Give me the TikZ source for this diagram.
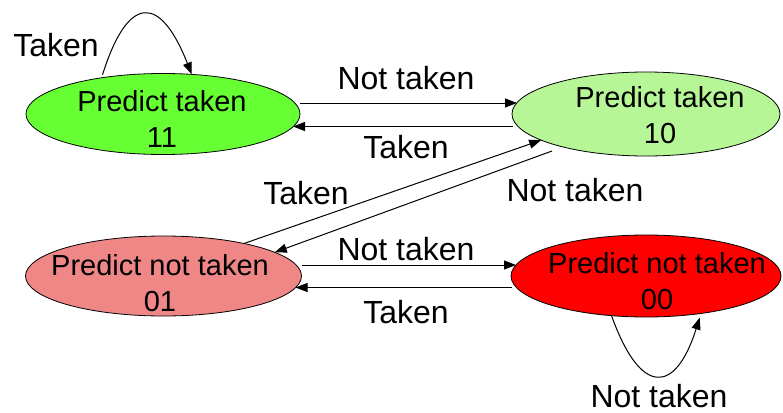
\documentclass[tikz,border=0pt]{standalone}
\usepackage{fontspec}
\setmainfont{Liberation Sans}
\usetikzlibrary{shapes.geometric,arrows.meta}
\definecolor{c11}{RGB}{102,255,51}
\definecolor{c10}{RGB}{182,246,150}
\definecolor{c01}{RGB}{240,135,135}
\definecolor{c00}{RGB}{255,0,0}
\begin{document}
\begin{tikzpicture}[x=1pt,y=-1pt,
  state/.style={ellipse,draw=black,line width=0.8pt,inner sep=0pt,outer sep=0pt},
  stxt/.style={align=center,font=\fontsize{29}{36}\selectfont,inner sep=0pt},
  lbl/.style={font=\fontsize{32}{38}\selectfont,inner sep=0pt},
  edge/.style={line width=1pt,-{Triangle[length=12pt,width=9pt]}}]
\useasboundingbox (0,0) rectangle (783,412);
% states
\node[state,fill=c11,minimum width=274pt,minimum height=81pt] (n11) at (163,114) {};
\node[state,fill=c10,minimum width=268pt,minimum height=84pt] (n10) at (646,114) {};
\node[state,fill=c01,minimum width=276pt,minimum height=80pt] (n01) at (163.5,276) {};
\node[state,fill=c00,minimum width=270pt,minimum height=82pt] (n00) at (646,276) {};
% state texts
\node[stxt] (t11) at (162,118.5) {Predict taken\\11};
\node[stxt] (t10) at (660,115.5) {Predict taken\\10};
\node[stxt] (t01) at (160,283.5) {Predict not taken\\01};
\node[stxt] (t00) at (657,281.5) {Predict not taken\\00};
% horizontal transitions
\draw[edge] ([shift={(0pt,11pt)}]n11.east) -- ([shift={(5pt,11pt)}]n10.west);
\draw[edge] ([shift={(1pt,-12.5pt)}]n10.west) -- ([shift={(-7pt,-12.5pt)}]n11.east);
\draw[edge] ([shift={(0pt,11pt)}]n01.east) -- ([shift={(5pt,11pt)}]n00.west);
\draw[edge] ([shift={(1pt,-11.5pt)}]n00.west) -- ([shift={(-6pt,-11.5pt)}]n01.east);
% diagonal transitions
\coordinate (d1) at (552,151);
\draw[edge] (n01.22) -- (n10.194);
\draw[edge] (d1) -- (n01.12);
% self loops
\draw[edge] ([yshift=3pt]n11.149) .. controls (128,-6) and (160,-6) .. (n11.54);
\draw[edge] (n00.229) .. controls (640,395.5) and (675,395.5) .. ([yshift=-4pt]n00.325);
% labels
\node[lbl] (l1) at (56,45) {Taken};
\node[lbl] (l2) at (406,78.5) {Not taken};
\node[lbl] (l3) at (406,147) {Taken};
\node[lbl] (l4) at (306,193) {Taken};
\node[lbl] (l5) at (575,190) {Not taken};
\node[lbl] (l6) at (406,249) {Not taken};
\node[lbl] (l7) at (406,312) {Taken};
\node[lbl] (l8) at (659,396) {Not taken};
\end{tikzpicture}
\end{document}
